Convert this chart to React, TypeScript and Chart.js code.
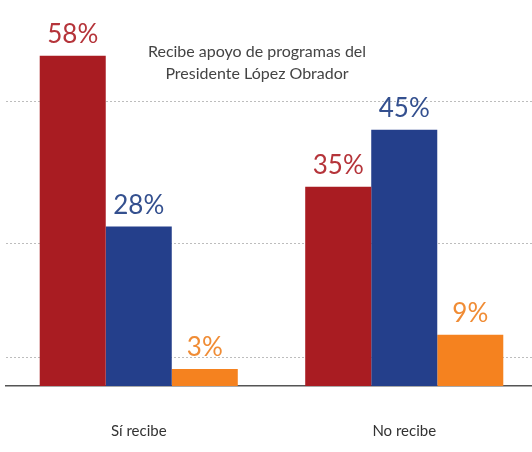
import React, { useEffect, useRef } from "react";
import { Chart, registerables } from "chart.js";

Chart.register(...registerables);

const categories = ["Sí recibe", "No recibe"];
const seriesRed = [58, 35];
const seriesBlue = [28, 45];
const seriesOrange = [3, 9];
const gridValues = [5, 25, 50];
const titleLines = ["Recibe apoyo de programas del", "Presidente López Obrador"];

const FONT = "Lato, 'Open Sans', sans-serif";

const barColors = ["#a91c22", "#243f8b", "#f5821f"];
const labelColors = ["#b5343a", "#34508f", "#f08c35"];

const valueLabels = {
  id: "valueLabels",
  afterDatasetsDraw(chart: any) {
    const ctx = chart.ctx;
    ctx.save();
    ctx.font = `26px ${FONT}`;
    ctx.textAlign = "center";
    ctx.textBaseline = "alphabetic";
    chart.data.datasets.forEach((ds: any, i: number) => {
      const meta = chart.getDatasetMeta(i);
      ctx.fillStyle = labelColors[i];
      meta.data.forEach((bar: any, j: number) => {
        ctx.fillText(`${ds.data[j]}%`, bar.x, bar.y - 13);
      });
    });
    ctx.restore();
  },
};

const chartTitle = {
  id: "chartTitle",
  afterDraw(chart: any) {
    const ctx = chart.ctx;
    ctx.save();
    ctx.font = `16px ${FONT}`;
    ctx.fillStyle = "#444";
    ctx.textAlign = "center";
    ctx.textBaseline = "middle";
    titleLines.forEach((t, i) => ctx.fillText(t, 257, 52 + i * 22));
    ctx.restore();
  },
};

export default function App() {
  const ref = useRef<HTMLCanvasElement>(null);
  useEffect(() => {
    if (!ref.current) return;
    const chart = new Chart(ref.current, {
      type: "bar",
      data: {
        labels: categories,
        datasets: [
          { label: "Rojo", data: seriesRed, backgroundColor: barColors[0] },
          { label: "Azul", data: seriesBlue, backgroundColor: barColors[1] },
          { label: "Naranja", data: seriesOrange, backgroundColor: barColors[2] },
        ],
      },
      options: {
        responsive: false,
        animation: false,
        layout: { padding: { left: 6, right: 3, top: 16, bottom: 13 } },
        datasets: { bar: { categoryPercentage: 0.746, barPercentage: 1 } },
        plugins: { legend: { display: false }, tooltip: { enabled: false } },
        scales: {
          x: {
            grid: { display: true, color: "rgba(0,0,0,0)", drawTicks: false },
            border: { display: true, color: "#555", width: 1.5 },
            ticks: { color: "#333", padding: 36, maxRotation: 0, font: { family: FONT, size: 15 } },
            afterFit: (scale: any) => {
              scale.height = 53;
            },
          },
          y: {
            min: 0,
            max: 65,
            afterBuildTicks: (scale: any) => {
              scale.ticks = gridValues.map((v) => ({ value: v }));
            },
            ticks: { display: false },
            grid: { color: "#bdbdbd", lineWidth: 1, drawTicks: false },
            border: { display: false, dash: [2, 2] },
          },
        },
      },
      plugins: [valueLabels, chartTitle],
    });
    return () => chart.destroy();
  }, []);
  return (
    <div style={{ position: "fixed", left: 0, top: 0, width: 532, height: 452, overflow: "hidden", background: "#fff" }}>
      <canvas ref={ref} width={540} height={452} style={{ display: "block" }} />
    </div>
  );
}
